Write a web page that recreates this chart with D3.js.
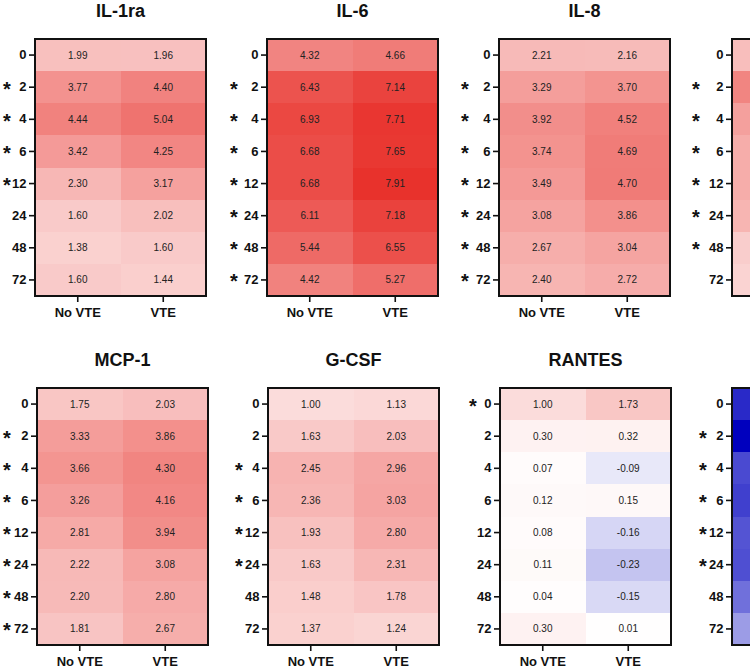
<!DOCTYPE html>
<html><head><meta charset="utf-8">
<script src="https://cdn.jsdelivr.net/npm/d3@7"></script>
<style>
html,body{margin:0;padding:0;background:#fff;}
svg{display:block;font-family:Arial,"Liberation Sans",Helvetica,sans-serif;}
</style></head>
<body><svg id="chart" width="750" height="669"></svg>
<script>
// ---- data ----
const timepoints = ["0","2","4","6","12","24","48","72"];
const groups = ["No VTE","VTE"];
const panelTitles = ["IL-1ra","IL-6","IL-8","","MCP-1","G-CSF","RANTES",""];

const il1raNoVTE = [1.99,3.77,4.44,3.42,2.30,1.60,1.38,1.60];
const il1raVTE   = [1.96,4.40,5.04,4.25,3.17,2.02,1.60,1.44];
const il1raSig   = [0,1,1,1,1,0,0,0];

const il6NoVTE = [4.32,6.43,6.93,6.68,6.68,6.11,5.44,4.42];
const il6VTE   = [4.66,7.14,7.71,7.65,7.91,7.18,6.55,5.27];
const il6Sig   = [0,1,1,1,1,1,1,1];

const il8NoVTE = [2.21,3.29,3.92,3.74,3.49,3.08,2.67,2.40];
const il8VTE   = [2.16,3.70,4.52,4.69,4.70,3.86,3.04,2.72];
const il8Sig   = [0,1,1,1,1,1,1,1];

// fourth panel of the top row is cut off at the image edge: first column estimated from colour
const top4NoVTE = [2.05,4.3,3.2,2.7,2.7,2.4,1.5,1.3];
const top4VTE   = [null,null,null,null,null,null,null,null];
const top4Sig   = [0,1,1,1,1,1,1,0];

const mcp1NoVTE = [1.75,3.33,3.66,3.26,2.81,2.22,2.20,1.81];
const mcp1VTE   = [2.03,3.86,4.30,4.16,3.94,3.08,2.80,2.67];
const mcp1Sig   = [0,1,1,1,1,1,1,1];

const gcsfNoVTE = [1.00,1.63,2.45,2.36,1.93,1.63,1.48,1.37];
const gcsfVTE   = [1.13,2.03,2.96,3.03,2.80,2.31,1.78,1.24];
const gcsfSig   = [0,0,1,1,1,1,0,0];

const rantesNoVTE = [1.00,0.30,0.07,0.12,0.08,0.11,0.04,0.30];
const rantesVTE   = [1.73,0.32,-0.09,0.15,-0.16,-0.23,-0.15,0.01];
const rantesSig   = [1,0,0,0,0,0,0,0];

// fourth panel of the bottom row is cut off: first column estimated from colour
const bot4NoVTE = [-0.84,-1.0,-0.71,-0.75,-0.67,-0.69,-0.56,-0.39];
const bot4VTE   = [null,null,null,null,null,null,null,null];
const bot4Sig   = [0,1,1,1,1,1,0,0];

const panelValues = [
  [il1raNoVTE, il1raVTE], [il6NoVTE, il6VTE], [il8NoVTE, il8VTE], [top4NoVTE, top4VTE],
  [mcp1NoVTE, mcp1VTE], [gcsfNoVTE, gcsfVTE], [rantesNoVTE, rantesVTE], [bot4NoVTE, bot4VTE]
];
const panelSig = [il1raSig, il6Sig, il8Sig, top4Sig, mcp1Sig, gcsfSig, rantesSig, bot4Sig];

// ---- layout ----
const W = 750;
const panelLeft = [35, 267, 499, 732, 37, 268, 500, 732];
const panelTop  = [39, 39, 39, 39, 388, 388, 388, 388];
const starOffset = [28, 33, 34, 36, 30, 29, 27, 29];
const PW = 171, PH = 257;

const redScale = d3.scalePow().exponent(0.85).domain([0, 8]).range(["#ffffff", "#e8302a"]).clamp(true);
const blueScale = d3.scaleLinear().domain([0, -1]).range(["#ffffff", "#0000be"]).clamp(true);
const colorOf = v => v >= 0 ? redScale(v) : blueScale(v);

const svg = d3.select("#chart");
const x = d3.scaleBand().domain(groups).range([0, PW]);
const y = d3.scaleBand().domain(timepoints).range([0, PH]);

panelTitles.forEach((title, p) => {
  const left = panelLeft[p];
  const g = svg.append("g").attr("transform", `translate(${left},${panelTop[p]})`);
  const cells = [];
  groups.forEach((grp, gi) => {
    timepoints.forEach((tp, ti) => {
      const v = panelValues[p][gi][ti];
      if (v !== null && v !== undefined) cells.push({grp, tp, v});
    });
  });
  g.selectAll("rect.cell").data(cells).enter().append("rect")
    .attr("class", "cell")
    .attr("x", d => x(d.grp)).attr("y", d => y(d.tp))
    .attr("width", x.bandwidth() + 0.5).attr("height", y.bandwidth() + 0.5)
    .attr("shape-rendering", "crispEdges")
    .attr("fill", d => colorOf(d.v));
  // value labels (only those that fall inside the picture)
  const visibleCells = cells.filter(d => left + x(d.grp) + x.bandwidth() / 2 + 12 < W);
  g.selectAll("text.val").data(visibleCells).enter().append("text")
    .attr("class", "val")
    .attr("x", d => x(d.grp) + x.bandwidth() / 2)
    .attr("y", d => y(d.tp) + y.bandwidth() / 2)
    .attr("dy", "0.35em")
    .attr("text-anchor", "middle")
    .attr("font-size", 10)
    .attr("fill", "#222")
    .text(d => d.v.toFixed(2));

  // frame
  g.append("rect").attr("x", 0).attr("y", 0).attr("width", PW).attr("height", PH)
    .attr("fill", "none").attr("stroke", "#111").attr("stroke-width", 2);

  // axes
  const ya = g.append("g").call(d3.axisLeft(y).tickSize(6).tickPadding(2.5));
  ya.select(".domain").remove();
  ya.selectAll("line").attr("stroke", "#111").attr("stroke-width", 1.6);
  ya.selectAll("text").attr("font-size", 13).attr("font-weight", "bold").attr("fill", "#111")
    .attr("font-family", "Arial, 'Liberation Sans', sans-serif");

  const xa = g.append("g").attr("transform", `translate(0,${PH})`)
    .call(d3.axisBottom(x).tickSize(6).tickPadding(6));
  xa.select(".domain").remove();
  xa.selectAll("line").attr("stroke", "#111").attr("stroke-width", 1.6);
  xa.selectAll("text").attr("font-size", 13).attr("font-weight", "bold").attr("fill", "#111")
    .attr("font-family", "Arial, 'Liberation Sans', sans-serif");
  xa.selectAll(".tick").filter(d => left + x(d) + x.bandwidth() / 2 + 25 > W).select("text").remove();

  // significance asterisks
  const sigRows = timepoints.filter((tp, i) => panelSig[p][i]);
  g.selectAll("text.star").data(sigRows).enter().append("text")
    .attr("class", "star")
    .attr("x", -starOffset[p])
    .attr("y", d => y(d) + y.bandwidth() / 2 + 8.5)
    .attr("text-anchor", "middle")
    .attr("font-size", 20).attr("font-weight", "bold").attr("fill", "#111")
    .text("*");

  // title
  if (title) {
    g.append("text").attr("x", PW / 2).attr("y", -22)
      .attr("text-anchor", "middle").attr("font-size", 18).attr("font-weight", "bold")
      .attr("fill", "#111").text(title);
  }
});
</script></body></html>
